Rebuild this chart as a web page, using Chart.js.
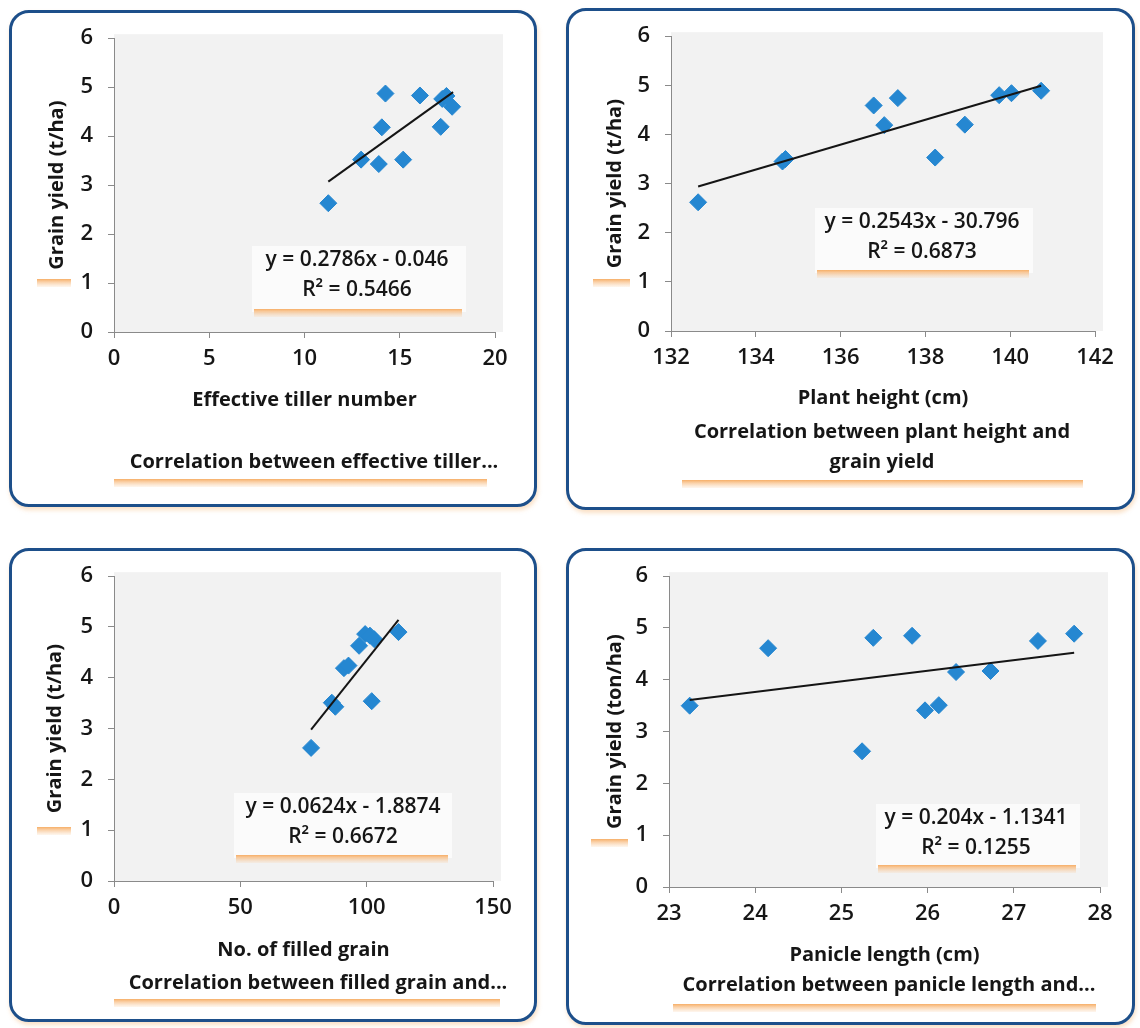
<!DOCTYPE html>
<html>
<head>
<meta charset="utf-8">
<script src="https://cdn.jsdelivr.net/npm/chart.js@4.4.1/dist/chart.umd.min.js"></script>
<style>
  html, body { margin: 0; padding: 0; background: #fff; }
  body { width: 1140px; height: 1028px; position: relative; overflow: hidden; }
  .panel { position: absolute; }
  .panel canvas { position: absolute; left: 0; top: 0; }
  .frame {
    position: absolute; left: 0; top: 0; right: 0; bottom: 0;
    border: 3px solid #1d4f8a; border-radius: 20px; box-sizing: border-box;
    box-shadow: 1px 3px 4px rgba(240, 165, 90, 0.35);
    pointer-events: none;
  }
</style>
</head>
<body>
<div class="panel" style="left:9px;top:10px;width:528px;height:497px"><canvas id="c1" width="528" height="497"></canvas><div class="frame"></div></div>
<div class="panel" style="left:566px;top:8px;width:569px;height:502px"><canvas id="c2" width="569" height="502"></canvas><div class="frame"></div></div>
<div class="panel" style="left:9px;top:548px;width:528px;height:474px"><canvas id="c3" width="528" height="474"></canvas><div class="frame"></div></div>
<div class="panel" style="left:566px;top:548px;width:569px;height:477px"><canvas id="c4" width="569" height="477"></canvas><div class="frame"></div></div>

<script>
// shared y axis
const yieldTicks = [0, 1, 2, 3, 4, 5, 6];

// effective tiller number vs grain yield
const tillerX = [11.25, 12.97, 13.9, 14.06, 14.25, 15.18, 16.06, 17.15, 17.23, 17.45, 17.75];
const tillerY = [2.63, 3.52, 3.43, 4.18, 4.87, 3.52, 4.83, 4.19, 4.76, 4.82, 4.60];
const tillerTicks = [0, 5, 10, 15, 20];
const tillerTrend = [[11.25, 3.07], [17.8, 4.9]];

// plant height vs grain yield
const heightX = [132.64, 134.63, 134.7, 136.78, 137.03, 137.35, 138.23, 138.93, 139.74, 140.03, 140.73];
const heightY = [2.62, 3.45, 3.50, 4.59, 4.19, 4.74, 3.53, 4.20, 4.80, 4.84, 4.89];
const heightTicks = [132, 134, 136, 138, 140, 142];
const heightTrend = [[132.64, 2.94], [140.73, 4.99]];

// filled grain vs grain yield
const grainX = [78, 86.2, 87.6, 91, 92.8, 97, 99.4, 101.3, 103, 102, 112.6];
const grainY = [2.62, 3.51, 3.43, 4.19, 4.24, 4.63, 4.86, 4.83, 4.76, 3.54, 4.9];
const grainTicks = [0, 50, 100, 150];
const grainTrend = [[78, 2.98], [112.6, 5.14]];

// panicle length vs grain yield
const panicleX = [23.24, 24.15, 25.24, 25.37, 25.82, 25.97, 26.13, 26.33, 26.73, 27.28, 27.70];
const panicleY = [3.50, 4.61, 2.62, 4.81, 4.85, 3.41, 3.51, 4.15, 4.17, 4.75, 4.89];
const panicleTicks = [23, 24, 25, 26, 27, 28];
const panicleTrend = [[23.24, 3.61], [27.7, 4.52]];

const FONT = "'Open Sans', 'DejaVu Sans', sans-serif";
const TEXT = '#161616';
const AXIS = '#8a8a8a';
const BLUE = '#2587d1';
const TITLE_SIZE = 20;
const TICK_SIZE = 22;

function orangeBar(ctx, x1, x2, y) {
    ctx.save();
    const g = ctx.createLinearGradient(0, y - 3, 0, y + 5);
    g.addColorStop(0, 'rgba(246,170,95,0.95)');
    g.addColorStop(1, 'rgba(250,210,170,0.2)');
    ctx.fillStyle = g;
    ctx.fillRect(x1, y - 3, x2 - x1, 8);
    ctx.restore();
}

// draws plot background, equation box, chart title and the orange box shadows
const panelText = {
    id: 'panelText',
    beforeDraw(chart, args, o) {
        const { ctx, chartArea } = chart;
        ctx.save();
        ctx.fillStyle = '#f2f2f2';
        ctx.fillRect(chartArea.left, chartArea.top - 4, chartArea.width + 8, chartArea.height + 4);
        const b = o.eqBox;
        ctx.fillStyle = '#fbfbfb';
        ctx.fillRect(b[0], b[1], b[2] - b[0], b[3] - b[1]);
        ctx.restore();
        orangeBar(ctx, b[0] + 2, b[2] - 4, b[3]);
        orangeBar(ctx, o.yMark[0], o.yMark[1], o.yMark[2]);
        orangeBar(ctx, o.titleBar[0], o.titleBar[1], o.titleBar[2]);
    },
    afterDraw(chart, args, o) {
        const { ctx } = chart;
        ctx.save();
        ctx.fillStyle = TEXT;
        ctx.textAlign = 'center';
        ctx.textBaseline = 'middle';
        ctx.font = `600 21px ${FONT}`;
        o.eq.forEach((t, i) => ctx.fillText(t, o.eqPos[0], o.eqPos[1] + i * 30));
        ctx.font = `bold ${TITLE_SIZE}px ${FONT}`;
        o.title.forEach((t, i) => ctx.fillText(t, o.titlePos[0], o.titlePos[1] + i * 30));
        ctx.restore();
    }
};

function makeChart(id, xs, ys, trend, xTicks, cfg) {
    const canvas = document.getElementById(id);
    const W = canvas.width, H = canvas.height;
    const a = cfg.area;
    const titleLH = TITLE_SIZE * 1.2;
    const xH = cfg.xTitleY - a.bottom + titleLH / 2;
    return new Chart(canvas, {
        type: 'scatter',
        data: {
            datasets: [
                {
                    data: trend.map(p => ({ x: p[0], y: p[1] })),
                    showLine: true,
                    borderColor: '#151515',
                    borderWidth: 2,
                    pointRadius: 0
                },
                {
                    data: xs.map((x, i) => ({ x, y: ys[i] })),
                    pointStyle: 'rectRot',
                    pointRadius: 8.5,
                    backgroundColor: BLUE,
                    borderColor: BLUE,
                    borderWidth: 1
                }
            ]
        },
        options: {
            responsive: false,
            animation: false,
            events: [],
            layout: {
                padding: { left: 0, top: a.top, right: W - a.right, bottom: H - a.bottom - xH }
            },
            plugins: {
                legend: { display: false },
                tooltip: { enabled: false },
                panelText: cfg.text
            },
            scales: {
                x: {
                    type: 'linear',
                    min: xTicks[0],
                    max: xTicks[xTicks.length - 1],
                    afterBuildTicks: s => { s.ticks = xTicks.map(v => ({ value: v })); },
                    afterFit: s => { s.height = xH; },
                    border: { display: true, color: AXIS, width: 1 },
                    grid: { drawOnChartArea: false, drawTicks: true, tickLength: 6, color: AXIS },
                    ticks: { color: TEXT, padding: 8, font: { family: FONT, size: TICK_SIZE, weight: '600' } },
                    title: {
                        display: true, text: cfg.xTitle, color: TEXT,
                        padding: { top: 0, bottom: 0 },
                        font: { family: FONT, size: TITLE_SIZE, weight: 'bold' }
                    }
                },
                y: {
                    type: 'linear',
                    min: 0,
                    max: 6,
                    afterBuildTicks: s => { s.ticks = yieldTicks.map(v => ({ value: v })); },
                    afterFit: s => { s.width = a.left; },
                    border: { display: true, color: AXIS, width: 1 },
                    grid: { drawOnChartArea: false, drawTicks: true, tickLength: 6, color: AXIS },
                    ticks: { color: TEXT, padding: 15, font: { family: FONT, size: TICK_SIZE, weight: '600' } },
                    title: {
                        display: true, text: cfg.yTitle, color: TEXT,
                        padding: { top: cfg.yTitleX - titleLH / 2, bottom: 0 },
                        font: { family: FONT, size: TITLE_SIZE, weight: 'bold' }
                    }
                }
            }
        },
        plugins: [panelText]
    });
}

makeChart('c1', tillerX, tillerY, tillerTrend, tillerTicks, {
    area: { left: 105, right: 486, top: 23, bottom: 322 },
    xTitleY: 390, yTitleX: 48,
    xTitle: 'Effective tiller number', yTitle: 'Grain yield (t/ha)',
    text: {
        eq: ['y = 0.2786x - 0.046', 'R² = 0.5466'], eqPos: [348, 250], eqBox: [243, 236, 457, 302],
        title: ['Correlation between effective tiller...'], titlePos: [305, 452],
        titleBar: [105, 478, 472], yMark: [28, 62, 272]
    }
});

makeChart('c2', heightX, heightY, heightTrend, heightTicks, {
    area: { left: 105, right: 529, top: 25, bottom: 323 },
    xTitleY: 390, yTitleX: 49,
    xTitle: 'Plant height (cm)', yTitle: 'Grain yield (t/ha)',
    text: {
        eq: ['y = 0.2543x - 30.796', 'R² = 0.6873'], eqPos: [356, 214], eqBox: [249, 200, 467, 265],
        title: ['Correlation between plant height and', 'grain yield'], titlePos: [316, 424],
        titleBar: [116, 517, 475], yMark: [27, 64, 274]
    }
});

makeChart('c3', grainX, grainY, grainTrend, grainTicks, {
    area: { left: 105, right: 484, top: 25, bottom: 333 },
    xTitleY: 402, yTitleX: 46,
    xTitle: 'No. of filled grain', yTitle: 'Grain yield (t/ha)',
    text: {
        eq: ['y = 0.0624x - 1.8874', 'R² = 0.6672'], eqPos: [334, 259], eqBox: [225, 245, 443, 310],
        title: ['Correlation between filled grain and...'], titlePos: [309, 435],
        titleBar: [105, 491, 454], yMark: [28, 62, 282]
    }
});

makeChart('c4', panicleX, panicleY, panicleTrend, panicleTicks, {
    area: { left: 103, right: 534, top: 27, bottom: 339 },
    xTitleY: 407, yTitleX: 49,
    xTitle: 'Panicle length (cm)', yTitle: 'Grain yield (ton/ha)',
    text: {
        eq: ['y = 0.204x - 1.1341', 'R² = 0.1255'], eqPos: [410, 270], eqBox: [310, 256, 514, 320],
        title: ['Correlation between panicle length and...'], titlePos: [323, 437],
        titleBar: [107, 530, 459], yMark: [25, 62, 294]
    }
});
</script>
</body>
</html>
